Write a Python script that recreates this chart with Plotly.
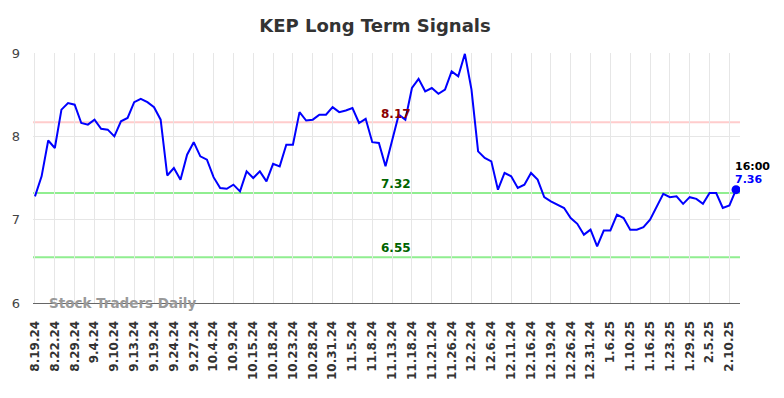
import plotly.graph_objects as go

values = [7.28, 7.52, 7.95, 7.86, 8.32, 8.40, 8.38, 8.16, 8.14, 8.20,
          8.09, 8.08, 8.00, 8.18, 8.22, 8.41, 8.45, 8.41, 8.35, 8.20,
          7.53, 7.62, 7.48, 7.78, 7.93, 7.76, 7.72, 7.51, 7.38, 7.37,
          7.42, 7.34, 7.58, 7.50, 7.58, 7.46, 7.67, 7.64, 7.90, 7.90,
          8.29, 8.19, 8.20, 8.26, 8.26, 8.35, 8.29, 8.31, 8.34, 8.16,
          8.21, 7.93, 7.92, 7.64, 7.95, 8.26, 8.20, 8.58, 8.69, 8.54,
          8.58, 8.51, 8.56, 8.78, 8.72, 8.99, 8.56, 7.82, 7.74, 7.70,
          7.36, 7.56, 7.52, 7.38, 7.42, 7.56, 7.48, 7.27, 7.22, 7.18,
          7.14, 7.02, 6.95, 6.82, 6.88, 6.68, 6.87, 6.87, 7.06, 7.02,
          6.88, 6.88, 6.91, 7.00, 7.16, 7.31, 7.27, 7.28, 7.19, 7.27,
          7.25, 7.19, 7.32, 7.32, 7.14, 7.17, 7.36]

tick_labels = ["8.19.24", "8.22.24", "8.29.24", "9.4.24", "9.10.24", "9.13.24",
               "9.19.24", "9.24.24", "9.27.24", "10.4.24", "10.9.24", "10.15.24",
               "10.18.24", "10.23.24", "10.28.24", "10.31.24", "11.5.24", "11.8.24",
               "11.13.24", "11.18.24", "11.21.24", "11.26.24", "12.2.24", "12.6.24",
               "12.11.24", "12.16.24", "12.19.24", "12.26.24", "12.31.24", "1.6.25",
               "1.10.25", "1.16.25", "1.23.25", "1.29.25", "2.5.25", "2.10.25"]
tick_step = 3

resistance = 8.17
supports = [7.32, 6.55]
last_time = "16:00"

x = list(range(len(values)))
tickvals = [i * tick_step for i in range(len(tick_labels))]

FONT = "DejaVu Sans"
fig = go.Figure()
fig.add_trace(go.Scatter(x=x, y=values, mode="lines",
                         line=dict(color="#0000ff", width=2), hoverinfo="skip"))
fig.add_trace(go.Scatter(x=[x[-1]], y=[values[-1]], mode="markers",
                         marker=dict(color="#0000ff", size=9), hoverinfo="skip"))

shapes = [dict(type="line", xref="paper", x0=0, x1=1, y0=resistance, y1=resistance,
               line=dict(color="#ffcccc", width=2), layer="below")]
for s in supports:
    shapes.append(dict(type="line", xref="paper", x0=0, x1=1, y0=s, y1=s,
                       line=dict(color="#90ee90", width=2), layer="below"))

label_x = 54.6
annotations = [
    dict(x=label_x, y=resistance, text=f"<b>{resistance:.2f}</b>", showarrow=False,
         yanchor="bottom", yshift=-1, font=dict(family=FONT, size=12, color="#8b0000")),
]
for s in supports:
    annotations.append(dict(x=label_x, y=s, text=f"<b>{s:.2f}</b>", showarrow=False,
                            yanchor="bottom", yshift=0,
                            font=dict(family=FONT, size=12, color="#006400")))
annotations += [
    dict(x=x[-1], y=values[-1], text=f"<b>{last_time}</b>", showarrow=False,
         xanchor="left", yanchor="middle", xshift=-3, yshift=23,
         font=dict(family=FONT, size=11, color="#000000")),
    dict(x=x[-1], y=values[-1], text=f"<b>{values[-1]:.2f}</b>", showarrow=False,
         xanchor="left", yanchor="middle", xshift=-3, yshift=10,
         font=dict(family=FONT, size=11, color="#0000ff")),
    dict(xref="paper", yref="paper", x=0.02, y=0, text="<b>Stock Traders Daily</b>",
         showarrow=False, xanchor="left", yanchor="middle", yshift=0,
         font=dict(family=FONT, size=13.5, color="#999999")),
]

fig.update_layout(
    width=784, height=398,
    margin=dict(l=25, r=52, t=45, b=103),
    paper_bgcolor="white", plot_bgcolor="white",
    showlegend=False,
    title=dict(text="<b>KEP Long Term Signals</b>", x=367 / 784, xanchor="center",
               y=1 - 18 / 398, yanchor="middle",
               font=dict(family=FONT, size=18, color="#333333")),
    xaxis=dict(range=[-0.3, 106.6], tickvals=tickvals, ticktext=tick_labels,
               tickangle=-90, showgrid=True, gridcolor="#e6e6e6", gridwidth=1,
               zeroline=False, showline=True, linecolor="#666666", linewidth=1,
               ticklabelstandoff=12, automargin=False,
               tickfont=dict(family=FONT, size=12, color="#333333", weight="bold")),
    yaxis=dict(range=[6, 9], tickvals=[6, 7, 8, 9], showgrid=True,
               gridcolor="#e6e6e6", gridwidth=1, zeroline=False, showline=False,
               ticklabelstandoff=12, automargin=False,
               tickfont=dict(family=FONT, size=13, color="#444444")),
    shapes=shapes, annotations=annotations,
)

fig.write_html("out.html")
